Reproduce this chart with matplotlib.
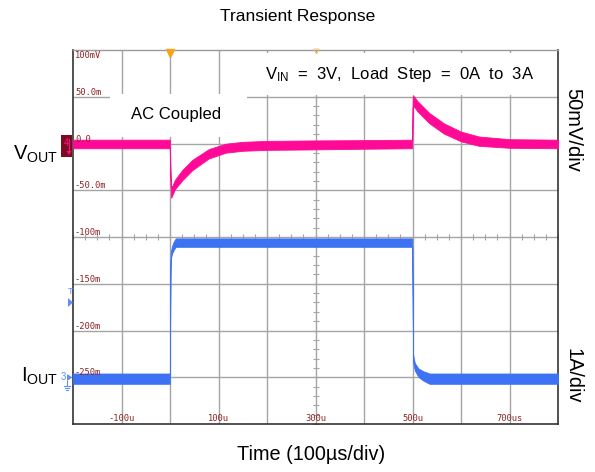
import matplotlib.pyplot as plt
from matplotlib.patches import Rectangle, Polygon
from matplotlib.lines import Line2D

plt.rcParams['font.family'] = ['Liberation Sans', 'DejaVu Sans']
plt.rcParams['mathtext.fontset'] = 'custom'
plt.rcParams['mathtext.rm'] = 'Liberation Sans'
plt.rcParams['mathtext.it'] = 'Liberation Sans:italic'

W, H = 595, 472

# scope graticule: 100 us/div, ch4 50 mV/div, ch3 1 A/div
time_ticks = [-100, 100, 300, 500, 700]
time_tick_labels = ['-100u', '100u', '300u', '500u', '700us']
volt_levels = [100, 50, 0, -50, -100, -150, -200, -250]
volt_labels = ['100mV', '50.0m', '0.0', '-50.0m', '-100m', '-150m', '-200m', '-250m']

# ch4 Vout (AC coupled), mV: trace centre and half-width of the noise band
vout_t = [-200, -0.5, 1.2, 2.5, 5, 10, 25, 46, 80, 115, 150, 200, 300, 400, 499.3,
          500.5, 503, 510, 535, 565, 600, 637, 700, 800]
vout_mid = [-0.5, -0.5, -40, -52, -50, -44, -34, -23, -11, -5, -3, -2, -1.5, -1, -0.5,
            45, 45, 40, 27, 16, 7.5, 2.5, 0, -0.5]
vout_half = [4.6, 4.6, 5, 6, 5, 5, 5.5, 5.5, 5, 4.8, 4.8, 4.8, 4.8, 4.6, 4.6,
             5.5, 5.5, 5.5, 5.5, 5.5, 5.2, 5, 4.6, 4.6]

# ch3 Iout, A
iout_t = [-200, -0.3, 0.8, 1.5, 4, 8, 12, 499.5, 501.2, 503, 505, 512, 522, 535, 800]
iout_mid = [-0.03, -0.03, 2.2, 2.6, 2.72, 2.82, 2.88, 2.88, 0.42, 0.3, 0.22, 0.1, 0.03, -0.03, -0.03]
iout_half = [0.11, 0.11, 0.08, 0.08, 0.08, 0.09, 0.09, 0.09, 0.08, 0.08, 0.08, 0.09, 0.1, 0.11, 0.11]

PINK = '#ff0a96'
BLUE = '#3d72f5'
LBLUE = '#5f8ff7'
MAROON = '#8c2222'
GRID = '#a4a4a4'


def fx(x):
    return x / W


def fy(y):
    return 1 - y / H


fig = plt.figure(figsize=(W / 100, H / 100), dpi=100)
ax = fig.add_axes([fx(73), fy(424), (558 - 73) / W, (424 - 50) / H])
ax.set_xlim(-200, 800)
ax.set_ylim(-300, 100)
ax.set_xticks([])
ax.set_yticks([])
for s in ['left', 'bottom', 'right']:
    ax.spines[s].set_color('#333333')
    ax.spines[s].set_linewidth(1.2)
ax.spines['top'].set_color('#9a9a9a')
ax.spines['top'].set_linewidth(1.0)

# graticule
for t in range(-100, 800, 100):
    ax.axvline(t, color=GRID, lw=1, zorder=1)
for v in volt_levels[1:]:
    ax.axhline(v, color=GRID, lw=1, zorder=1)
# minor ticks on the centre lines
ax.plot(range(-200, 801, 25), [-100] * 41, ls='none', marker='|', ms=4,
        mew=0.8, color=GRID, zorder=1)
ax.plot([300] * 41, range(-300, 101, 10), ls='none', marker='_', ms=5,
        mew=0.8, color=GRID, zorder=1)

# annotation boxes blank out the grid
ax.add_patch(Rectangle((-124, 7), 283, 46, facecolor='white', edgecolor='none', zorder=2))
ax.add_patch(Rectangle((159, 52), 634, 44.5, facecolor='white', edgecolor='none', zorder=2))
ax.text(12, 31, 'AC Coupled', ha='center', va='center', fontsize=12, zorder=3)
ax.text(474, 74, r'V$_{\mathrm{IN}}$  =  3V,  Load  Step  =  0A  to  3A',
        ha='center', va='center', fontsize=12, zorder=3)

# Vout trace
lo = [m - h for m, h in zip(vout_mid, vout_half)]
hi = [m + h for m, h in zip(vout_mid, vout_half)]
ax.fill_between(vout_t, lo, hi, color=PINK, lw=0.6, edgecolor=PINK, zorder=4)

# Iout trace on its own scale: 0 A sits at -250 mV, 1 A/div
ax2 = ax.twinx()
ax2.set_ylim(-1, 7)
ax2.set_yticks([])
for s in ax2.spines.values():
    s.set_visible(False)
lo = [m - h for m, h in zip(iout_mid, iout_half)]
hi = [m + h for m, h in zip(iout_mid, iout_half)]
ax2.fill_between(iout_t, lo, hi, color=BLUE, lw=0.6, edgecolor=BLUE, zorder=4)

# graticule labels
for v, lab in zip(volt_levels, volt_labels):
    y = v - 6 if v == 100 else v + 4.8
    ax2.text(-196, (y + 250) / 50, lab, ha='left', va='center', fontsize=6.3,
             family='DejaVu Sans Mono', color=MAROON, zorder=6)
for t, lab in zip(time_ticks, time_tick_labels):
    ax2.text(t, -0.88, lab, ha='center', va='center', fontsize=6.3,
             family='DejaVu Sans Mono', color=MAROON, zorder=6)

# trigger position and markers along the top edge
ax.plot(0, 97, marker='v', ms=6, color='#f5a31a', clip_on=False, zorder=7)
ax.plot(300, 98.5, marker='v', ms=3.5, mfc='none', mec='#f7c070', mew=0.7,
        clip_on=False, zorder=7)

# channel 4 ground marker
fig.patches.append(Rectangle((fx(61), fy(157)), 11 / W, 22 / H, transform=fig.transFigure,
                             facecolor='#7a0c1e', edgecolor='none'))
fig.text(fx(66.5), fy(143), '4', ha='center', va='center', fontsize=7, color=PINK)
fig.lines.append(Line2D([fx(69), fx(69)], [fy(139), fy(152)], color=PINK, lw=0.8,
                        transform=fig.transFigure))
fig.patches.append(Polygon([(fx(66.5), fy(151)), (fx(71.5), fy(151)), (fx(69), fy(155))],
                           closed=True, transform=fig.transFigure, facecolor=PINK,
                           edgecolor='none'))

# trigger level marker
fig.text(fx(70), fy(292), 'T', ha='center', va='center', fontsize=6.5, color=LBLUE)
fig.patches.append(Polygon([(fx(68), fy(298)), (fx(68), fy(307)), (fx(73), fy(302.5))],
                           closed=True, transform=fig.transFigure, facecolor=LBLUE,
                           edgecolor='none'))

# channel 3 ground marker
fig.text(fx(63.5), fy(377.5), '3', ha='center', va='center', fontsize=7, color=LBLUE)
fig.patches.append(Polygon([(fx(67), fy(374)), (fx(67), fy(381)), (fx(72.5), fy(377.5))],
                           closed=True, transform=fig.transFigure, facecolor=LBLUE,
                           edgecolor='none'))
fig.lines.append(Line2D([fx(66.5), fx(66.5)], [fy(381), fy(386)], color=LBLUE, lw=0.8,
                        transform=fig.transFigure))
for y, hw in [(386, 3), (388, 2), (390, 1)]:
    fig.lines.append(Line2D([fx(66.5 - hw), fx(66.5 + hw)], [fy(y), fy(y)], color=LBLUE,
                            lw=0.8, transform=fig.transFigure))

# outer labels
fig.text(fx(298), fy(17), 'Transient Response', ha='center', va='center', fontsize=12.5)
fig.text(fx(311), fy(455), 'Time (100µs/div)', ha='center', va='center', fontsize=14.3)
fig.text(fx(573), fy(130), '50mV/div', rotation=-90, ha='center', va='center', fontsize=14.5)
fig.text(fx(573), fy(376), '1A/div', rotation=-90, ha='center', va='center', fontsize=14.3)
fig.text(fx(58), fy(160), r'V$_{\mathrm{OUT}}$', ha='right', va='baseline', fontsize=14.5)
fig.text(fx(58), fy(382), r'I$_{\mathrm{OUT}}$', ha='right', va='baseline', fontsize=14.5)

fig.savefig('out.png', dpi=100)
